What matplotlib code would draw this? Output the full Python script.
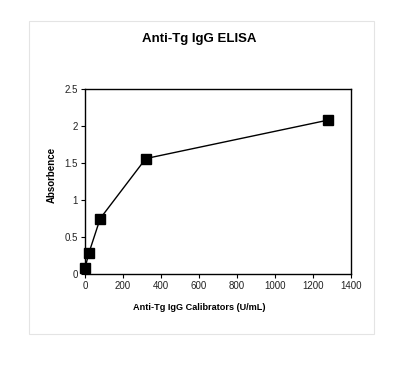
import matplotlib
matplotlib.use("Agg")
import matplotlib.pyplot as plt
from matplotlib.patches import Rectangle

plt.rcParams['font.family'] = ['Liberation Sans', 'DejaVu Sans']

# calibrator concentrations and absorbance
calibrators = [0, 20, 80, 320, 1280]
absorbance = [0.08, 0.28, 0.75, 1.56, 2.08]

fig = plt.figure(figsize=(3.96, 3.72), dpi=100)

# light grey frame around the whole chart
fig.patches.append(Rectangle((29 / 396, 1 - 334 / 372), 345 / 396, 313 / 372,
                             transform=fig.transFigure, fill=False,
                             edgecolor='#e4e4e4', linewidth=0.8))

ax = fig.add_axes([85 / 396, 1 - 274 / 372, 266 / 396, 185 / 372])

ax.plot(calibrators, absorbance, color='black', lw=1.0, marker='s',
        markersize=6.5, markerfacecolor='black', markeredgecolor='black',
        clip_on=False)

ax.set_xlim(0, 1400)
ax.set_ylim(0, 2.5)
ax.set_xticks(range(0, 1401, 200))
ax.set_yticks([0, 0.5, 1, 1.5, 2, 2.5])
ax.set_yticklabels(['0', '0.5', '1', '1.5', '2', '2.5'])

ax.tick_params(axis='both', direction='out', length=3, width=0.8,
               labelsize=7, pad=2, colors='black', labelcolor='#222222')

for spine in ax.spines.values():
    spine.set_linewidth(1)

fig.text(199 / 396, 1 - 39 / 372, 'Anti-Tg IgG ELISA', ha='center',
         va='center', fontsize=9.5, fontweight='bold')
fig.text(199 / 396, 1 - 308 / 372, 'Anti-Tg IgG Calibrators (U/mL)',
         ha='center', va='center', fontsize=6.6, fontweight='bold')
fig.text(52 / 396, 1 - 175 / 372, 'Absorbence', ha='center', va='center',
         rotation=90, fontsize=7, fontweight='bold')

fig.savefig('out.png', dpi=100)
